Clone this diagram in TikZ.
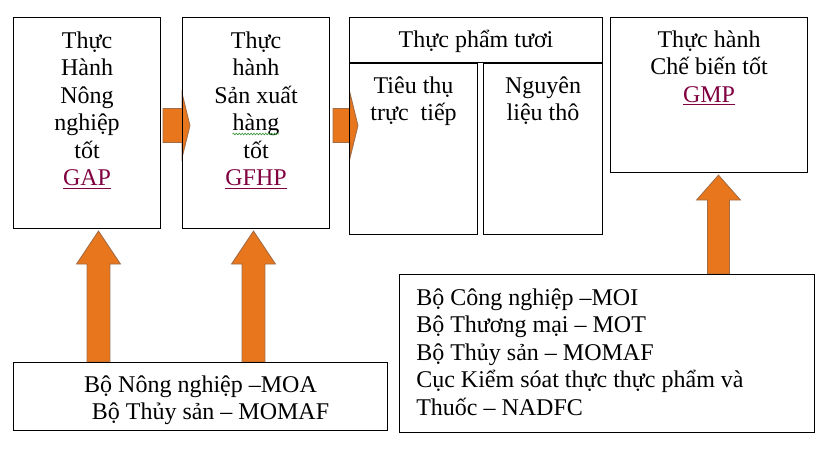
\documentclass[tikz,border=0pt]{standalone}
\usepackage{fontspec}
\setmainfont{Liberation Serif}
\usetikzlibrary{calc,positioning,backgrounds,decorations.pathmorphing}
\definecolor{arrfill}{RGB}{232,118,28}
\definecolor{arredge}{RGB}{160,108,70}
\definecolor{linkred}{RGB}{128,0,64}
\definecolor{spellgreen}{RGB}{60,150,60}
\newcommand{\link}[1]{\textcolor{linkred}{\underline{#1}}}
\newcommand{\fl}{\rule{0pt}{16pt}}
% block arrows: #1 start, #2 tip, #3 half body, #4 half head, #5 head length
\newcommand{\uparr}[5]{%
  \draw[blockarrow] let \p1=(#1), \p2=(#2) in
    (\x1-#3,\y1) -- (\x1-#3,\y2-#5) -- (\x1-#4,\y2-#5) -- (\x2,\y2)
    -- (\x1+#4,\y2-#5) -- (\x1+#3,\y2-#5) -- (\x1+#3,\y1) -- cycle;}
\newcommand{\rightarr}[5]{%
  \draw[blockarrow] let \p1=(#1), \p2=(#2) in
    (\x1,\y1+#3) -- (\x2-#5,\y1+#3) -- (\x2-#5,\y1+#4) -- (\x2,\y2)
    -- (\x2-#5,\y1-#4) -- (\x2-#5,\y1-#3) -- (\x1,\y1-#3) -- cycle;}
\tikzset{
  box/.style={draw,line width=0.8pt,inner sep=0pt,anchor=north west},
  txt/.style={font=\fontsize{18pt}{20.6pt}\selectfont,align=center,inner sep=0pt},
  blockarrow/.style={fill=arrfill,draw=arredge,line width=0.6pt,line join=miter}
}
\begin{document}
\begin{tikzpicture}[x=0.75pt,y=-0.75pt]
  \useasboundingbox (0,0) rectangle (840,455);
  % boxes
  \node[box,minimum width=110.25pt,minimum height=158.25pt] (gap) at (13,17) {};
  \node[box,minimum width=110.25pt,minimum height=158.25pt] (gfhp) at (182,17) {};
  \node[box,minimum width=189.75pt,minimum height=33.75pt] (fresh) at (349,17) {};
  \node[box,minimum width=96pt,minimum height=128.25pt] (direct) at (fresh.south west) {};
  \node[box,anchor=north east,minimum width=89.25pt,minimum height=128.25pt] (raw) at (fresh.south east) {};
  \node[box,minimum width=147.75pt,minimum height=116.25pt] (gmp) at (610,17) {};
  \node[box,minimum width=280.5pt,minimum height=51pt] (moa) at (13,362) {};
  \node[box,minimum width=311.25pt,minimum height=118.5pt] (moi) at (399,274) {};
  % texts
  \node[txt,below=7.3pt of gap.north] (gaptext) {\fl Thực\\Hành\\Nông\\nghiệp\\tốt\\\link{GAP}};
  \node[txt,below=7.3pt of gfhp.north] (gfhptext) {\fl Thực\\hành\\Sản xuất\\hàng\\tốt\\\link{GFHP}};
  \node[txt,below=6.5pt of fresh.north] (freshtext) {\fl Thực phẩm tươi};
  \node[txt,below=6.5pt of direct.north] (directtext) {\fl Tiêu thụ\\trực\ \ tiếp};
  \node[txt,below=6.5pt of raw.north] (rawtext) {\fl Nguyên\\liệu thô};
  \node[txt,below=6.5pt of gmp.north] (gmptext) {\fl Thực hành\\Chế biến tốt\\\link{GMP}};
  \node[txt,below=6.5pt of moa.north] (moatext) {\fl Bộ Nông nghiệp –MOA\\\hspace*{15pt}Bộ Thủy sản – MOMAF};
  \node[txt,align=left,anchor=north west] (moitext) at ($(moi.north west)+(17,9.7)$)
    {\fl Bộ Công nghiệp –MOI\\Bộ Thương mại – MOT\\Bộ Thủy sản – MOMAF\\Cục Kiểm sóat thực thực phẩm và\\Thuốc – NADFC};
  \draw[spellgreen,line width=0.5pt,decorate,decoration={snake,amplitude=0.6pt,segment length=2.2pt}]
    ($(gfhp.north)+(-23.5,117)$) -- ($(gfhp.north)+(22.5,117)$);
  % arrows
  \coordinate (r1s) at ($(gap.east)+(2,2.5)$);
  \coordinate (r1e) at ($(gfhp.west)+(8,2.5)$);
  \coordinate (r2s) at ($(gfhp.east)+(3,2.5)$);
  \coordinate (r2e) at ($(fresh.west |- r2s)+(9,0)$);
  \coordinate (u1s) at ($(moa.north west)+(85.5,0)$);
  \coordinate (u1e) at ($(gap.south west)+(85.5,2)$);
  \coordinate (u2s) at ($(moa.north west)+(240.5,0)$);
  \coordinate (u2e) at ($(gfhp.south west)+(71.5,2)$);
  \coordinate (u3s) at ($(moi.north west)+(319.5,0)$);
  \coordinate (u3e) at ($(gmp.south west)+(108.5,2)$);
  \begin{scope}[on background layer]
    \rightarr{r1s}{r1e}{12.75pt}{24.4pt}{6pt}
    \rightarr{r2s}{r2e}{12.75pt}{24.4pt}{6pt}
    \uparr{u1s}{u1e}{8.6pt}{16.5pt}{24.75pt}
    \uparr{u2s}{u2e}{8.6pt}{16.5pt}{24.75pt}
    \uparr{u3s}{u3e}{8.25pt}{16.5pt}{18.75pt}
  \end{scope}
\end{tikzpicture}
\end{document}
